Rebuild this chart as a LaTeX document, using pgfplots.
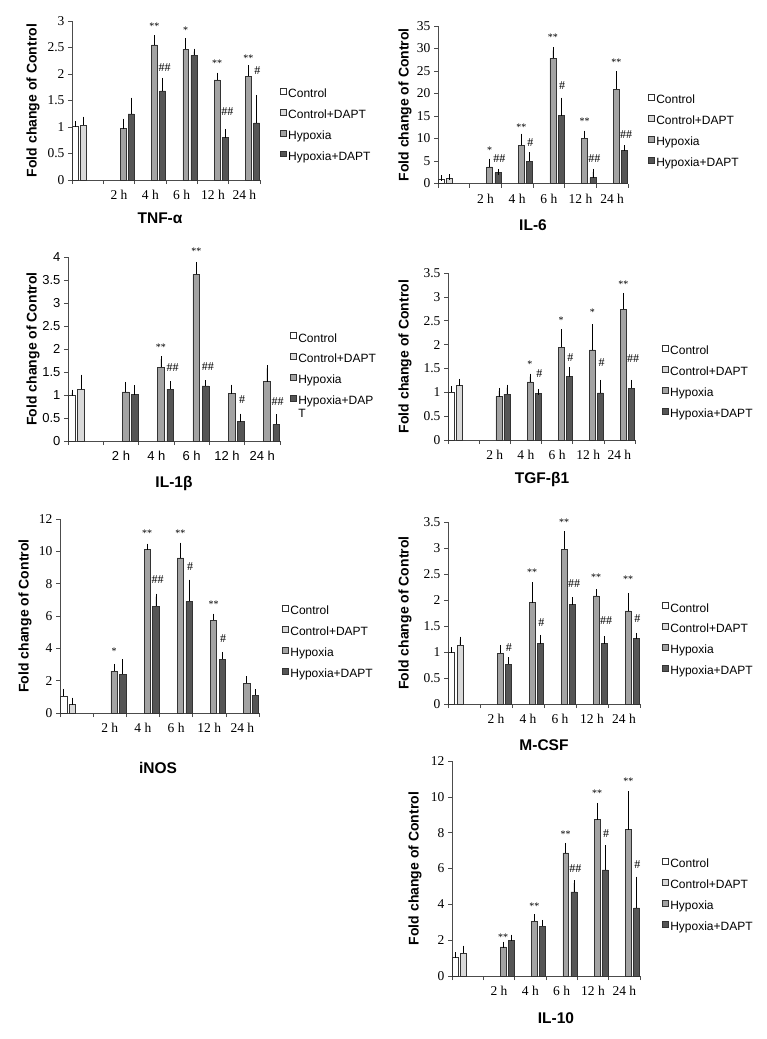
\documentclass[border=0pt]{standalone}
\usepackage{fontspec}
\setmainfont{Liberation Serif}
\newfontfamily\arial{Liberation Sans}
\usepackage{pgfplots}
\pgfplotsset{compat=1.18}
\definecolor{cC}{HTML}{FFFFFF}
\definecolor{cCD}{HTML}{D9D9D9}
\definecolor{cH}{HTML}{A3A3A3}
\definecolor{cHD}{HTML}{555555}
\pgfplotsset{
  panel/.style={
    anchor=south west, scale only axis, clip=false,
    axis lines=left, axis line style={-, black!70, line width=0.6pt},
    xmin=-0.5, xmax=5.5, ymin=0,
    xtick={-0.5,0.5,1.5,2.5,3.5,4.5,5.5}, xticklabels={{},{},{},{},{},{},{}},
    extra x ticks={0,1,2,3,4,5},
    extra x tick labels={{},2 h,4 h,6 h,12 h,24 h},
    extra x tick style={major tick length=0pt, tick label style={yshift=-7pt}},
    tick align=outside, major tick length=4pt,
    tick style={black!70, line width=0.6pt},
    /pgf/number format/assume math mode=true,
    tick label style={font=\fontsize{13.5}{13.5}\selectfont},
    ylabel={Fold change of Control},
    ylabel style={font=\arial\bfseries\fontsize{14}{14}\selectfont, at={(axis description cs:0,0.5)}, anchor=center},
    legend image code/.code={\draw[#1] (0pt,0.7pt) rectangle (5.8pt,6.5pt);},
    legend cell align=left,
    legend style={draw=none, fill=none, anchor=north west, inner sep=0pt,
      font=\arial\fontsize{12}{13}\selectfont, row sep=7.5pt,
      nodes={inner sep=0.6pt, text height=9pt, text depth=3pt},
      /tikz/every odd column/.append style={column sep=1.2pt}},
  },
  bar/.style={ybar, bar width=0.19, draw=black!80, line width=0.5pt,
    error bars/y dir=plus, error bars/y explicit,
    error bars/error bar style={black, line width=0.6pt},
    error bars/error mark options={black, line width=0.6pt, mark size=3pt}},
  bC/.style={bar, fill=cC},
  bCD/.style={bar, fill=cCD},
  bH/.style={bar, fill=cH},
  bHD/.style={bar, fill=cHD},
}
\tikzset{
  ast/.style={font=\fontsize{10}{10}\selectfont, inner sep=0pt},
  hsh/.style={font=\fontsize{12}{12}\selectfont, inner sep=0pt},
  ttl/.style={font=\arial\bfseries\fontsize{15.5}{15.5}\selectfont, inner sep=0pt},
}
\begin{document}
\begin{tikzpicture}
\path[use as bounding box] (0pt,0pt) rectangle (767pt,-1039pt);

% ---------- TNF-alpha ----------
\begin{axis}[panel, at={(72pt,-180pt)}, width=188pt, height=159pt,
  ymax=3, ytick={0,0.5,1,1.5,2,2.5,3},
  ylabel style={yshift=39pt},
  legend style={at={(1.106,0.579)}}]
\addplot[bC] coordinates {(-0.39,1.02) +- (0,0.04)};
\addplot[bCD] coordinates {(-0.13,1.04) +- (0,0.10)};
\addplot[bH] coordinates {(1.13,0.97) +- (0,0.13) (2.13,2.55) +- (0,0.12) (3.13,2.47) +- (0,0.15) (4.13,1.89) +- (0,0.08) (5.13,1.96) +- (0,0.15)};
\addplot[bHD] coordinates {(1.39,1.25) +- (0,0.25) (2.39,1.68) +- (0,0.19) (3.39,2.35) +- (0,0.07) (4.39,0.80) +- (0,0.11) (5.39,1.08) +- (0,0.47)};
\legend{Control,Control+DAPT,Hypoxia,Hypoxia+DAPT}
\node[ast] at (axis cs:2.13,2.90) {**};
\node[hsh] at (axis cs:2.46,2.12) {\#\#};
\node[ast] at (axis cs:3.13,2.82) {*};
\node[ast] at (axis cs:4.13,2.21) {**};
\node[hsh] at (axis cs:4.46,1.30) {\#\#};
\node[ast] at (axis cs:5.13,2.30) {**};
\node[hsh] at (axis cs:5.42,2.06) {\#};
\end{axis}
\node[ttl] at (160pt,-218pt) {TNF-α};

% ---------- IL-6 ----------
\begin{axis}[panel, at={(438pt,-183.5pt)}, width=190pt, height=157.5pt,
  ymax=35, ytick={0,5,10,15,20,25,30,35},
  ylabel style={yshift=33pt},
  legend style={at={(1.105,0.568)}}]
\addplot[bC] coordinates {(-0.39,1.0) +- (0,0.15)};
\addplot[bCD] coordinates {(-0.13,1.25) +- (0,0.15)};
\addplot[bH] coordinates {(1.13,3.7) +- (0,1.15) (2.13,8.5) +- (0,1.9) (3.13,27.8) +- (0,1.8) (4.13,10.1) +- (0,1.0) (5.13,21.0) +- (0,3.3)};
\addplot[bHD] coordinates {(1.39,2.4) +- (0,0.2) (2.39,5.0) +- (0,1.25) (3.39,15.1) +- (0,3.3) (4.39,1.3) +- (0,1.3) (5.39,7.35) +- (0,0.45)};
\legend{Control,Control+DAPT,Hypoxia,Hypoxia+DAPT}
\node[ast] at (axis cs:1.13,7.4) {*};
\node[hsh] at (axis cs:1.44,5.5) {\#\#};
\node[ast] at (axis cs:2.13,12.5) {**};
\node[hsh] at (axis cs:2.42,9.0) {\#};
\node[ast] at (axis cs:3.13,32.4) {**};
\node[hsh] at (axis cs:3.42,21.7) {\#};
\node[ast] at (axis cs:4.13,13.8) {**};
\node[hsh] at (axis cs:4.44,5.5) {\#\#};
\node[ast] at (axis cs:5.13,27.0) {**};
\node[hsh] at (axis cs:5.44,10.9) {\#\#};
\end{axis}
\node[ttl] at (533pt,-225pt) {IL-6};

% ---------- IL-1beta ----------
\begin{axis}[panel, at={(68pt,-441pt)}, width=212pt, height=184pt,
  ymax=4, ytick={0,0.5,1,1.5,2,2.5,3,3.5,4},
  tick label style={font=\arial\fontsize{13}{13}\selectfont},
  ylabel style={yshift=35pt},
  legend style={at={(1.047,0.592)}}]
\addplot[bC] coordinates {(-0.39,1.0) +- (0,0.05)};
\addplot[bCD] coordinates {(-0.13,1.12) +- (0,0.26)};
\addplot[bH] coordinates {(1.13,1.07) +- (0,0.15) (2.13,1.6) +- (0,0.18) (3.13,3.62) +- (0,0.21) (4.13,1.03) +- (0,0.13) (5.13,1.29) +- (0,0.29)};
\addplot[bHD] coordinates {(1.39,1.01) +- (0,0.14) (2.39,1.13) +- (0,0.10) (3.39,1.2) +- (0,0.06) (4.39,0.42) +- (0,0.11) (5.39,0.36) +- (0,0.16)};
\legend{Control,Control+DAPT,Hypoxia,{\begin{tabular}[t]{@{}l@{}}Hypoxia+DAP\\T\end{tabular}}}
\node[ast] at (axis cs:2.13,2.03) {**};
\node[hsh] at (axis cs:2.46,1.6) {\#\#};
\node[ast] at (axis cs:3.13,4.13) {**};
\node[hsh] at (axis cs:3.46,1.61) {\#\#};
\node[hsh] at (axis cs:4.43,0.91) {\#};
\node[hsh] at (axis cs:5.43,0.85) {\#\#};
\end{axis}
\node[ttl] at (174pt,-483pt) {IL-1β};

% ---------- TGF-beta1 ----------
\begin{axis}[panel, at={(448pt,-440pt)}, width=187pt, height=167pt,
  ymax=3.5, ytick={0,0.5,1,1.5,2,2.5,3,3.5},
  ylabel style={yshift=43pt},
  legend style={at={(1.144,0.569)}}]
\addplot[bC] coordinates {(-0.39,1.01) +- (0,0.05)};
\addplot[bCD] coordinates {(-0.13,1.14) +- (0,0.08)};
\addplot[bH] coordinates {(1.13,0.91) +- (0,0.12) (2.13,1.22) +- (0,0.11) (3.13,1.94) +- (0,0.32) (4.13,1.89) +- (0,0.47) (5.13,2.74) +- (0,0.28)};
\addplot[bHD] coordinates {(1.39,0.96) +- (0,0.14) (2.39,0.98) +- (0,0.03) (3.39,1.33) +- (0,0.13) (4.39,0.99) +- (0,0.21) (5.39,1.08) +- (0,0.12)};
\legend{Control,Control+DAPT,Hypoxia,Hypoxia+DAPT}
\node[ast] at (axis cs:2.13,1.58) {*};
\node[hsh] at (axis cs:2.43,1.39) {\#};
\node[ast] at (axis cs:3.13,2.50) {*};
\node[hsh] at (axis cs:3.43,1.73) {\#};
\node[ast] at (axis cs:4.13,2.67) {*};
\node[hsh] at (axis cs:4.43,1.62) {\#};
\node[ast] at (axis cs:5.13,3.26) {**};
\node[hsh] at (axis cs:5.44,1.70) {\#\#};
\end{axis}
\node[ttl] at (542pt,-479pt) {TGF-β1};

% ---------- iNOS ----------
\begin{axis}[panel, at={(60pt,-713pt)}, width=199pt, height=194pt,
  ymax=12, ytick={0,2,4,6,8,10,12},
  ylabel style={yshift=35pt},
  legend style={at={(1.116,0.557)}}]
\addplot[bC] coordinates {(-0.39,1.05) +- (0,0.25)};
\addplot[bCD] coordinates {(-0.13,0.52) +- (0,0.25)};
\addplot[bH] coordinates {(1.13,2.59) +- (0,0.27) (2.13,10.12) +- (0,0.17) (3.13,9.6) +- (0,0.75) (4.13,5.75) +- (0,0.21) (5.13,1.83) +- (0,0.27)};
\addplot[bHD] coordinates {(1.39,2.41) +- (0,0.72) (2.39,6.6) +- (0,0.6) (3.39,6.9) +- (0,1.16) (4.39,3.34) +- (0,0.25) (5.39,1.1) +- (0,0.17)};
\legend{Control,Control+DAPT,Hypoxia,Hypoxia+DAPT}
\node[ast] at (axis cs:1.13,3.85) {*};
\node[ast] at (axis cs:2.13,11.15) {**};
\node[hsh] at (axis cs:2.44,8.27) {\#\#};
\node[ast] at (axis cs:3.13,11.15) {**};
\node[hsh] at (axis cs:3.42,9.08) {\#};
\node[ast] at (axis cs:4.13,6.75) {**};
\node[hsh] at (axis cs:4.42,4.6) {\#};
\end{axis}
\node[ttl] at (158pt,-768pt) {iNOS};

% ---------- M-CSF ----------
\begin{axis}[panel, at={(448pt,-704pt)}, width=192pt, height=182pt,
  ymax=3.5, ytick={0,0.5,1,1.5,2,2.5,3,3.5},
  ylabel style={yshift=43pt},
  legend style={at={(1.115,0.560)}}]
\addplot[bC] coordinates {(-0.39,1.0) +- (0,0.03)};
\addplot[bCD] coordinates {(-0.13,1.13) +- (0,0.11)};
\addplot[bH] coordinates {(1.13,0.98) +- (0,0.10) (2.13,1.95) +- (0,0.33) (3.13,2.98) +- (0,0.28) (4.13,2.08) +- (0,0.07) (5.13,1.79) +- (0,0.29)};
\addplot[bHD] coordinates {(1.39,0.76) +- (0,0.08) (2.39,1.16) +- (0,0.11) (3.39,1.91) +- (0,0.09) (4.39,1.16) +- (0,0.09) (5.39,1.26) +- (0,0.05)};
\legend{Control,Control+DAPT,Hypoxia,Hypoxia+DAPT}
\node[hsh] at (axis cs:1.40,1.08) {\#};
\node[ast] at (axis cs:2.13,2.53) {**};
\node[hsh] at (axis cs:2.42,1.57) {\#};
\node[ast] at (axis cs:3.13,3.50) {**};
\node[hsh] at (axis cs:3.44,2.31) {\#\#};
\node[ast] at (axis cs:4.13,2.44) {**};
\node[hsh] at (axis cs:4.44,1.60) {\#\#};
\node[ast] at (axis cs:5.13,2.40) {**};
\node[hsh] at (axis cs:5.42,1.64) {\#};
\end{axis}
\node[ttl] at (544pt,-745pt) {M-CSF};

% ---------- IL-10 ----------
\begin{axis}[panel, at={(452pt,-976pt)}, width=188pt, height=215pt,
  ymax=12, ytick={0,2,4,6,8,10,12},
  ylabel style={yshift=37pt},
  legend style={at={(1.117,0.549)}}]
\addplot[bC] coordinates {(-0.39,1.02) +- (0,0.13)};
\addplot[bCD] coordinates {(-0.13,1.28) +- (0,0.25)};
\addplot[bH] coordinates {(1.13,1.62) +- (0,0.13) (2.13,3.05) +- (0,0.24) (3.13,6.87) +- (0,0.39) (4.13,8.73) +- (0,0.77) (5.13,8.17) +- (0,1.97)};
\addplot[bHD] coordinates {(1.39,1.99) +- (0,0.15) (2.39,2.79) +- (0,0.17) (3.39,4.69) +- (0,0.50) (4.39,5.93) +- (0,1.21) (5.39,3.8) +- (0,1.58)};
\legend{Control,Control+DAPT,Hypoxia,Hypoxia+DAPT}
\node[ast] at (axis cs:1.13,2.19) {**};
\node[ast] at (axis cs:2.13,3.87) {**};
\node[ast] at (axis cs:3.13,7.89) {**};
\node[hsh] at (axis cs:3.44,5.99) {\#\#};
\node[ast] at (axis cs:4.13,10.19) {**};
\node[hsh] at (axis cs:4.42,7.94) {\#};
\node[ast] at (axis cs:5.13,10.86) {**};
\node[hsh] at (axis cs:5.42,6.23) {\#};
\end{axis}
\node[ttl] at (556pt,-1018pt) {IL-10};
\end{tikzpicture}
\end{document}
